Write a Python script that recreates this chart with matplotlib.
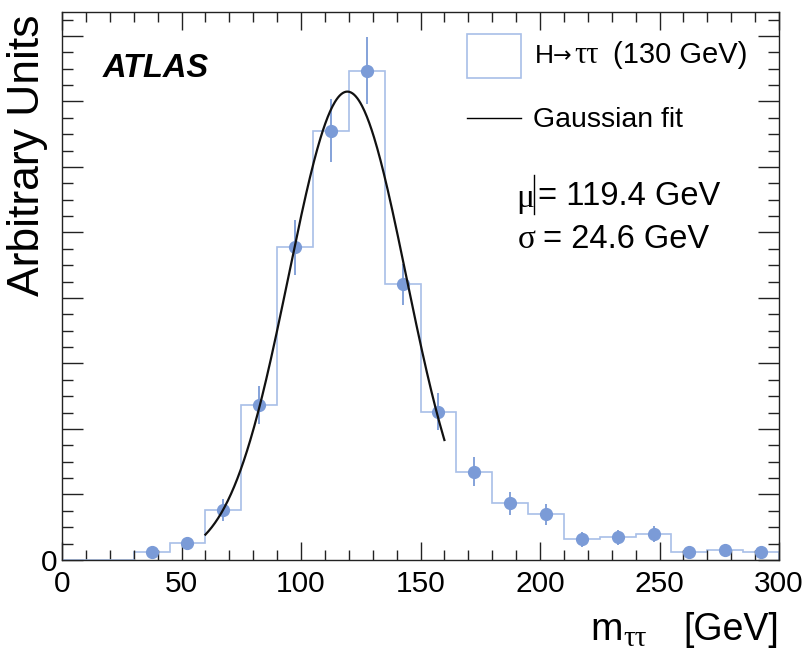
import numpy as np
import matplotlib
matplotlib.use("Agg")
import matplotlib.pyplot as plt
from matplotlib.ticker import MultipleLocator, FuncFormatter

plt.rcParams['font.family'] = ['Liberation Sans', 'DejaVu Sans']

# histogram bins (15 GeV wide, 30 - 300 GeV)
bin_edges = np.arange(30, 301, 15)
bin_values = [0.0025, 0.0051, 0.0153, 0.0474, 0.0955, 0.1310, 0.1494, 0.0842, 0.0453,
              0.0270, 0.0173, 0.0140, 0.0063, 0.0069, 0.0079, 0.0024, 0.0031, 0.0024]
bin_errors = [0.0010, 0.0014, 0.0033, 0.0058, 0.0084, 0.0096, 0.0102, 0.0062, 0.0057,
              0.0045, 0.0036, 0.0032, 0.0022, 0.0023, 0.0024, 0.0012, 0.0013, 0.0012]

# gaussian fit result
fit_mu = 119.4
fit_sigma = 24.6
fit_amp = 0.143
fit_range = (60, 160)

marker_col = '#7b9bd7'
hist_col = '#a8bfe8'
serif = 'Liberation Serif'

W, H = 807, 651
fig = plt.figure(figsize=(W / 100, H / 100), dpi=100)
ax = fig.add_axes([62 / W, 91 / H, 717 / W, 548 / H])


def ftext(x, y, s, **kw):
    # place text in pixel coords measured from top-left
    return fig.text(x / W, 1 - y / H, s, **kw)


centers = 0.5 * (bin_edges[:-1] + bin_edges[1:])
vals = np.array(bin_values)

# histogram outline, plus the empty part below 30 GeV
ax.stairs(vals, bin_edges, color=hist_col, lw=1.2)
ax.plot([0, bin_edges[0]], [0, 0], color=hist_col, lw=1.2)

ax.errorbar(centers, vals, yerr=bin_errors, fmt='o', color=marker_col, ms=8.5,
            elinewidth=1.3, capsize=0, zorder=3)

xf = np.linspace(fit_range[0], fit_range[1], 300)
ax.plot(xf, fit_amp * np.exp(-0.5 * ((xf - fit_mu) / fit_sigma) ** 2), color='#111111', lw=1.6, zorder=4)

ax.set_xlim(0, 300)
ax.set_ylim(0, 0.1673)
ax.xaxis.set_major_locator(MultipleLocator(50))
ax.xaxis.set_minor_locator(MultipleLocator(10))
ax.yaxis.set_major_locator(MultipleLocator(0.02))
ax.yaxis.set_minor_locator(MultipleLocator(0.005))
ax.yaxis.set_major_formatter(FuncFormatter(lambda v, p: '0' if abs(v) < 1e-9 else ''))
ax.tick_params(which='both', direction='in', top=True, right=True, color='#222222', width=1.0)
ax.tick_params(which='major', labelsize=21.5)
ax.tick_params(axis='x', which='major', length=13, pad=7)
ax.tick_params(axis='x', which='minor', length=7)
ax.tick_params(axis='y', which='major', length=15, pad=3)
ax.tick_params(axis='y', which='minor', length=8)
for s in ax.spines.values():
    s.set_color('#222222')
    s.set_linewidth(1.0)

# axis titles
ftext(590, 640, 'm', fontsize=28, va='baseline')
ftext(623, 646, 'ττ', fontsize=21, va='baseline', family=serif)
ftext(779, 640, '[GeV]', fontsize=27, ha='right', va='baseline')
ftext(28, 14, 'Arbitrary Units', rotation=90, ha='center', va='top', fontsize=32)

ftext(103, 77, 'ATLAS', fontsize=23.5, fontweight='bold', fontstyle='italic')

# legend drawn by hand
fig.patches.append(plt.Rectangle((467 / W, 1 - 78 / H), 54 / W, 44 / H,
                                 transform=fig.transFigure, fill=False, ec=hist_col, lw=1.2))
ftext(535, 63, 'H', fontsize=19, va='baseline')
ftext(553, 62, '→', fontsize=16, va='baseline', family='DejaVu Sans')
ftext(574, 63, 'ττ', fontsize=22, va='baseline', family=serif)
ftext(613, 63, '(130 GeV)', fontsize=21, va='baseline')
fig.lines.append(plt.Line2D([467 / W, 521 / W], [1 - 118 / H] * 2, transform=fig.transFigure,
                            color='black', lw=1.0))
ftext(533, 120, 'Gaussian fit', fontsize=20.5, va='center')

ftext(516, 207, 'μ', fontsize=24, va='baseline', family=serif)
fig.lines.append(plt.Line2D([534 / W, 534 / W], [1 - 214 / H, 1 - 175 / H],
                            transform=fig.transFigure, color='black', lw=1.0))
ftext(538, 205, '= 119.4 GeV', fontsize=23.5, va='baseline')
ftext(518, 248, 'σ', fontsize=24, va='baseline', family=serif)
ftext(543, 248, '= 24.6 GeV', fontsize=23.5, va='baseline')

fig.savefig('out.png', dpi=100)
